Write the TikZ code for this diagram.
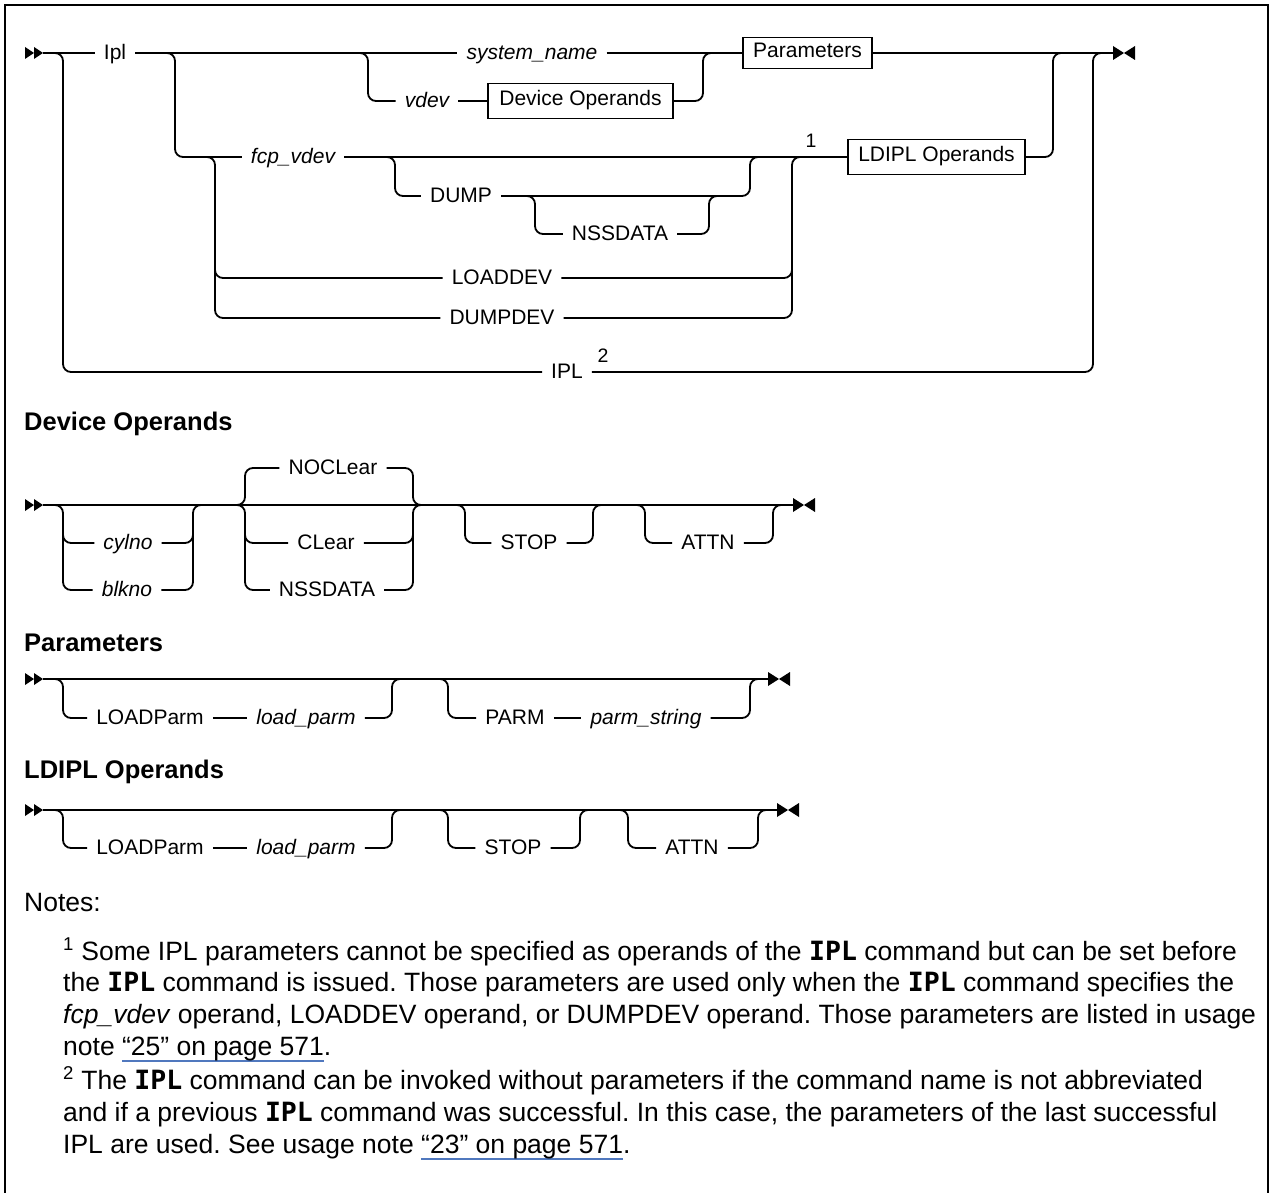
\documentclass[tikz,border=0pt]{standalone}
\usepackage{fontspec}
\setmainfont{Liberation Sans}
\newfontfamily\codefont{DejaVu Sans Mono}
\definecolor{linkblue}{RGB}{80,120,190}
\newsavebox\lnkbox
\newcommand\lnk[1]{\sbox\lnkbox{#1}\rlap{\textcolor{linkblue}{\rule[-6.5pt]{\wd\lnkbox}{1.6pt}}}\usebox\lnkbox}
\newcommand\cmd{{\codefont\bfseries IPL}}
\begin{document}
\frenchspacing
\begin{tikzpicture}[x=1pt,y=-1pt,
  rail/.style={line width=1.8pt, rounded corners=8pt},
  lbl/.style={inner xsep=9pt, inner ysep=0pt, text height=14pt, text depth=1pt, font=\fontsize{21}{24}\selectfont},
  var/.style={lbl, font=\fontsize{21}{24}\selectfont\itshape},
  boxn/.style={draw, line width=1.5pt, inner xsep=8pt, inner ysep=0pt, minimum height=35pt, text height=14pt, text depth=4pt, font=\fontsize{21}{24}\selectfont},
  heading/.style={anchor=base west, inner sep=0pt, font=\fontsize{25.5}{30}\selectfont\bfseries},
  supn/.style={inner sep=0pt, font=\fontsize{19.5}{22}\selectfont},
  note/.style={anchor=base west, inner sep=0pt, font=\fontsize{26.5}{32}\selectfont},
  startarrows/.pic={\fill (0,-6) -- (9,0) -- (0,6) -- cycle; \fill (9,-6) -- (18,0) -- (9,6) -- cycle;},
  endarrows/.pic={\fill (0,-7) -- (11,0) -- (0,7) -- cycle; \fill (22,-7) -- (11,0) -- (22,7) -- cycle;}
]
\useasboundingbox (0,0) rectangle (1274,1193);
\fill[white] (0,0) rectangle (1274,1193);
\draw[line width=2pt] (5,1193) -- (5,5) -- (1268,5) -- (1268,1193);

%%% main diagram
\pic at (25,53) {startarrows};
\coordinate (m0) at (43,53);
\coordinate (mend) at (1113,53);
\pic at (1113,53) {endarrows};
\node[lbl] (ipl) at (115,53) {Ipl};
\node[var] (sysname) at (532,53) {system\_name};
\node[boxn, minimum width=129pt, minimum height=31pt] (parbox) at (807.5,53) {Parameters};
\node[var] (vdev) at (427,101) {vdev};
\node[boxn, minimum width=185pt] (devbox) at (580.5,101) {Device Operands};
\node[var] (fcp) at (293,157) {fcp\_vdev};
\node[boxn, minimum width=177pt] (ldbox) at (936.5,157) {LDIPL Operands};
\node[lbl] (dump) at (461,196) {DUMP};
\node[lbl] (nss1) at (620,234) {NSSDATA};
\node[lbl] (loaddev) at (502,278) {LOADDEV};
\node[lbl] (dumpdev) at (502,318) {DUMPDEV};
\node[lbl] (iplalt) at (567,372) {IPL};
\node[supn] (s1) at (811,141) {1};
\node[supn] (s2) at (603,356) {2};

\draw[rail] (m0) -- (ipl.west);
\draw[rail] (ipl.east) -- (sysname.west);
\draw[rail] (sysname.east) -- (parbox.west);
\draw[rail] (parbox.east) -- (mend);
\draw[rail] (53,53) -- (63,53) -- (63,372) -- (iplalt.west);
\draw[rail] (iplalt.east) -- (1093,372) -- (1093,53) -- (1103,53);
\draw[rail] (165,53) -- (175,53) -- (175,157) -- (fcp.west);
\draw[rail] (fcp.east) -- (ldbox.west);
\draw[rail] (ldbox.east) -- (1053,157) -- (1053,53) -- (1063,53);
\draw[rail] (358,53) -- (368,53) -- (368,101) -- (vdev.west);
\draw[rail] (vdev.east) -- (devbox.west);
\draw[rail] (devbox.east) -- (703,101) -- (703,53) -- (713,53);
\draw[rail] (385,157) -- (395,157) -- (395,196) -- (dump.west);
\draw[rail] (dump.east) -- (750,196) -- (750,157) -- (760,157);
\draw[rail] (525,196) -- (535,196) -- (535,234) -- (nss1.west);
\draw[rail] (nss1.east) -- (709,234) -- (709,196) -- (719,196);
\draw[rail] (205,157) -- (215,157) -- (215,318) -- (dumpdev.west);
\draw[rail] (215,262) -- (215,278) -- (loaddev.west);
\draw[rail] (dumpdev.east) -- (792,318) -- (792,157) -- (802,157);
\draw[rail] (loaddev.east) -- (792,278) -- (792,262);

%%% Device Operands
\node[heading] (hdev) at (24,430) {Device Operands};
\pic at (25,505) {startarrows};
\coordinate (d0) at (43,505);
\coordinate (dend) at (793,505);
\pic at (793,505) {endarrows};
\draw[rail] (d0) -- (dend);
\node[var] (cylno) at (128,543) {cylno};
\node[var] (blkno) at (127,590) {blkno};
\draw[rail] (53,505) -- (63,505) -- (63,590) -- (blkno.west);
\draw[rail] (63,527) -- (63,543) -- (cylno.west);
\draw[rail] (blkno.east) -- (193,590) -- (193,505) -- (203,505);
\draw[rail] (cylno.east) -- (193,543) -- (193,527);
\node[lbl] (noclear) at (333,468) {NOCLear};
\node[lbl] (clear) at (326,543) {CLear};
\node[lbl] (nss2) at (327,590) {NSSDATA};
\draw[rail] (235,505) -- (245,505) -- (245,468) -- (noclear.west);
\draw[rail] (235,505) -- (245,505) -- (245,590) -- (nss2.west);
\draw[rail] (245,527) -- (245,543) -- (clear.west);
\draw[rail] (noclear.east) -- (413,468) -- (413,505) -- (423,505);
\draw[rail] (nss2.east) -- (413,590) -- (413,505) -- (423,505);
\draw[rail] (clear.east) -- (413,543) -- (413,527);
\node[lbl] (stop1) at (529,543) {STOP};
\draw[rail] (455,505) -- (465,505) -- (465,543) -- (stop1.west);
\draw[rail] (stop1.east) -- (593,543) -- (593,505) -- (603,505);
\node[lbl] (attn1) at (708,543) {ATTN};
\draw[rail] (635,505) -- (645,505) -- (645,543) -- (attn1.west);
\draw[rail] (attn1.east) -- (773,543) -- (773,505) -- (783,505);

%%% Parameters
\node[heading] (hpar) at (24,651) {Parameters};
\pic at (25,679) {startarrows};
\coordinate (p0) at (43,679);
\coordinate (pend) at (768,679);
\pic at (768,679) {endarrows};
\draw[rail] (p0) -- (pend);
\node[lbl] (lp1) at (150,718) {LOADParm};
\node[var] (lpv1) at (306,718) {load\_parm};
\draw[rail] (53,679) -- (63,679) -- (63,718) -- (lp1.west);
\draw[rail] (lp1.east) -- (lpv1.west);
\draw[rail] (lpv1.east) -- (392,718) -- (392,679) -- (402,679);
\node[lbl] (parm) at (515,718) {PARM};
\node[var] (pstr) at (646,718) {parm\_string};
\draw[rail] (438,679) -- (448,679) -- (448,718) -- (parm.west);
\draw[rail] (parm.east) -- (pstr.west);
\draw[rail] (pstr.east) -- (750,718) -- (750,679) -- (760,679);

%%% LDIPL Operands
\node[heading] (hld) at (24,778) {LDIPL Operands};
\pic at (25,810) {startarrows};
\coordinate (l0) at (43,810);
\coordinate (lend) at (777,810);
\pic at (777,810) {endarrows};
\draw[rail] (l0) -- (lend);
\node[lbl] (lp2) at (150,848) {LOADParm};
\node[var] (lpv2) at (306,848) {load\_parm};
\draw[rail] (53,810) -- (63,810) -- (63,848) -- (lp2.west);
\draw[rail] (lp2.east) -- (lpv2.west);
\draw[rail] (lpv2.east) -- (392,848) -- (392,810) -- (402,810);
\node[lbl] (stop2) at (513,848) {STOP};
\draw[rail] (438,810) -- (448,810) -- (448,848) -- (stop2.west);
\draw[rail] (stop2.east) -- (580,848) -- (580,810) -- (590,810);
\node[lbl] (attn2) at (692,848) {ATTN};
\draw[rail] (618,810) -- (628,810) -- (628,848) -- (attn2.west);
\draw[rail] (attn2.east) -- (758,848) -- (758,810) -- (768,810);

%%% Notes
\node[note] (notes) at (24,911) {Notes:};
\node[note] (n1a) at (63,960) {\textsuperscript{1} Some IPL parameters cannot be specified as operands of the \cmd{} command but can be set before};
\node[note] (n1b) at (63,991) {the \cmd{} command is issued. Those parameters are used only when the \cmd{} command specifies the};
\node[note] (n1c) at (63,1023) {\textit{fcp\_vdev} operand, LOADDEV operand, or DUMPDEV operand. Those parameters are listed in usage};
\node[note] (n1d) at (63,1055) {note \lnk{“25” on page 571}.};
\node[note] (n2a) at (63,1089) {\textsuperscript{2} The \cmd{} command can be invoked without parameters if the command name is not abbreviated};
\node[note] (n2b) at (63,1121) {and if a previous \cmd{} command was successful. In this case, the parameters of the last successful};
\node[note] (n2c) at (63,1153) {IPL are used. See usage note \lnk{“23” on page 571}.};
\end{tikzpicture}
\end{document}
